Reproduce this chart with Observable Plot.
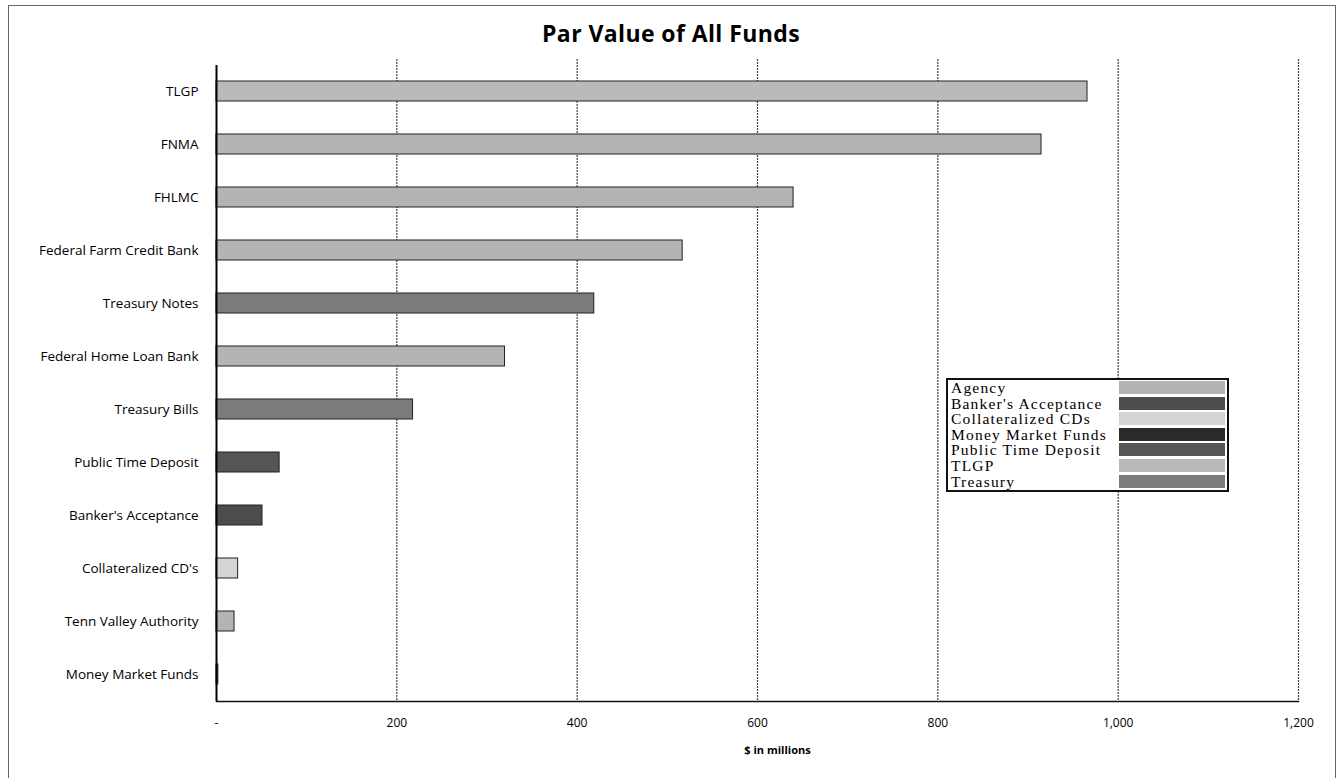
<!DOCTYPE html>
<html><head><meta charset="utf-8">
<script src="https://cdn.jsdelivr.net/npm/d3@7"></script>
<script src="https://cdn.jsdelivr.net/npm/@observablehq/plot@0.6"></script>
<style>
body{margin:0;background:#fff;}
#wrap{position:relative;width:1340px;height:778px;overflow:hidden;}
#frame{position:absolute;left:8px;top:5px;width:1326px;height:790px;border:1px solid #666;pointer-events:none;}
#chart{position:absolute;left:0;top:0;}
#title{position:absolute;left:0;top:17px;width:1342px;text-align:center;font-family:"Open Sans",sans-serif;font-weight:bold;font-size:23px;letter-spacing:0.4px;color:#000;}
#legend{position:absolute;left:946px;top:378px;width:279px;height:110px;border:2px solid #111;background:#fff;font-family:"Liberation Serif",serif;font-size:15.5px;letter-spacing:1.2px;color:#000;}
.row{position:relative;height:15.6px;line-height:15.6px;padding-left:3px;white-space:nowrap;}
.sw{position:absolute;left:171px;top:1px;width:106px;height:13px;}
</style>
</head><body>
<div id="wrap"><div id="chart"></div><div id="title">Par Value of All Funds</div><div id="frame"></div><div id="legend"></div></div>
<script>
const categories = ["TLGP","FNMA","FHLMC","Federal Farm Credit Bank","Treasury Notes","Federal Home Loan Bank","Treasury Bills","Public Time Deposit","Banker's Acceptance","Collateralized CD's","Tenn Valley Authority","Money Market Funds"];
const values = [966, 915, 640, 517, 419, 320, 218, 70, 51, 24, 20, 2];
const groups = ["TLGP","Agency","Agency","Agency","Treasury","Agency","Treasury","Public Time Deposit","Banker's Acceptance","Collateralized CDs","Agency","Money Market Funds"];
const legendNames = ["Agency","Banker's Acceptance","Collateralized CDs","Money Market Funds","Public Time Deposit","TLGP","Treasury"];
const legendColors = ["#b4b4b4","#4c4c4c","#d4d4d4","#2b2b2b","#555555","#bababa","#7b7b7b"];
const xTicks = [0,200,400,600,800,1000,1200];

const data = categories.map((c,i)=>({name:c, value:values[i], group:groups[i]}));
const fmt = d => d === 0 ? "-" : d3.format(",")(d);

const plot = Plot.plot({
  width:1340, height:778,
  marginLeft:216, marginRight:42, marginTop:65, marginBottom:77,
  style:{fontFamily:"'Open Sans', sans-serif", fontSize:"12px", color:"#000", background:"transparent"},
  x:{domain:[0,1200]},
  y:{domain:categories, paddingInner:0.62, paddingOuter:0.31},
  color:{domain:legendNames, range:legendColors},
  marks:[
    Plot.gridX(xTicks.slice(1), {stroke:"#222", strokeOpacity:0.85, strokeWidth:1.2, strokeDasharray:"2,1", insetTop:-6}),
    Plot.barX(data, {x:"value", y:"name", fill:"group", stroke:"#222", strokeWidth:1}),
    Plot.frame({anchor:"bottom", stroke:"#111", strokeWidth:1.5}),
    Plot.ruleX([0], {stroke:"#000", strokeWidth:2}),
    Plot.axisY({tickSize:0, tickPadding:18, label:null, fontSize:13.5, style:{letterSpacing:"0.9px"}}),
    Plot.axisX({ticks:xTicks, tickFormat:fmt, tickSize:0, tickPadding:17, label:null, fontSize:12}),
    Plot.text(["$ in millions"], {frameAnchor:"bottom", dy:52, dx:20, fontWeight:"bold", fontSize:11})
  ]
});
document.getElementById("chart").appendChild(plot);

const lg = document.getElementById("legend");
legendNames.forEach((n,i)=>{
  const r = document.createElement("div"); r.className="row"; r.textContent=n;
  const s = document.createElement("div"); s.className="sw"; s.style.background=legendColors[i];
  r.appendChild(s); lg.appendChild(r);
});
</script>
</body></html>
